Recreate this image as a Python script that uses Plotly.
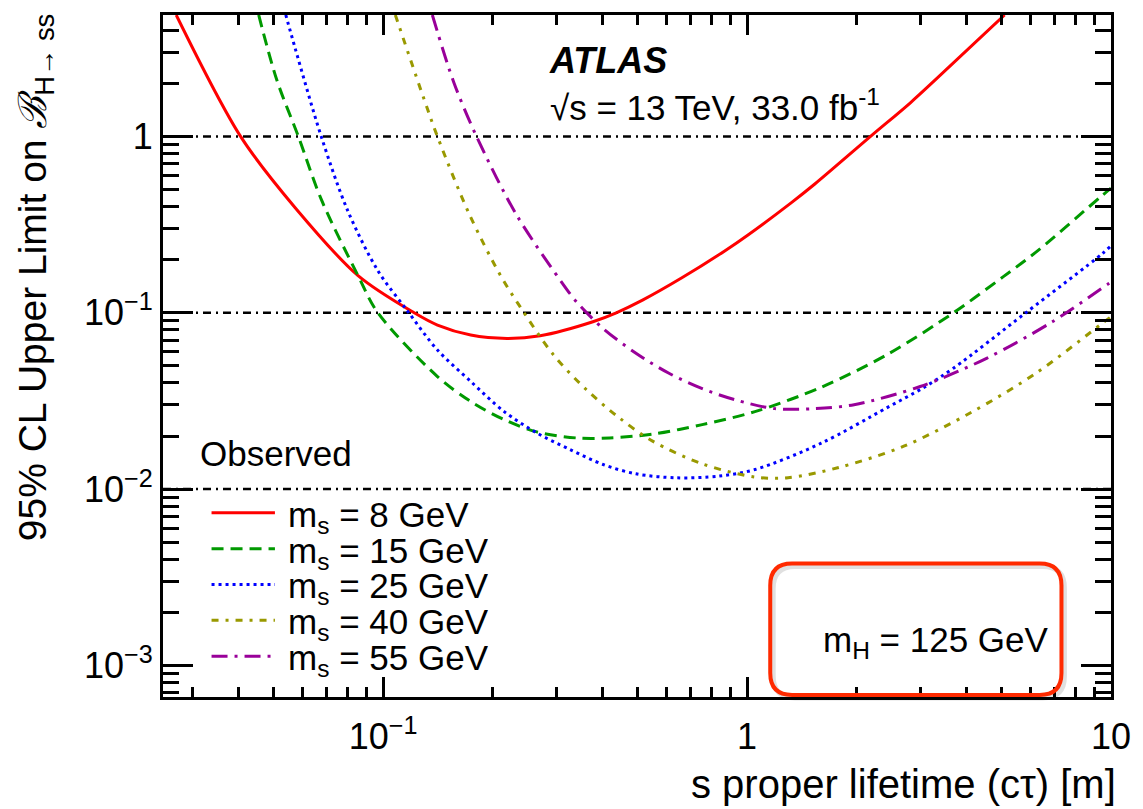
import plotly.graph_objects as go

# ---------------- data ----------------
x_8 = [0.027, 0.0406, 0.0573, 0.0853, 0.1217, 0.141, 0.174, 0.219, 0.270, 0.377, 0.437, 0.516, 0.662, 0.868, 1.008, 1.324, 1.532, 2.18, 2.81, 3.30, 5.10]
y_8 = [4.9, 1.0, 0.395, 0.1625, 0.100, 0.0852, 0.0748, 0.0716, 0.0741, 0.089, 0.100, 0.118, 0.158, 0.2245, 0.2776, 0.4223, 0.5367, 1.0, 1.556, 2.11, 4.9]

x_15 = [0.0455, 0.0510, 0.0585, 0.0676, 0.0853, 0.0967, 0.141, 0.174, 0.2146, 0.2645, 0.34, 0.419, 0.55, 0.753, 1.051, 1.598, 2.427, 3.69, 5.05, 6.22, 9.42, 10.0]
y_15 = [4.9, 2.1, 1.0, 0.44, 0.1625, 0.100, 0.0435, 0.0314, 0.0248, 0.0211, 0.0195, 0.0195, 0.0205, 0.0232, 0.0275, 0.0378, 0.058, 0.100, 0.16, 0.221, 0.46, 0.51]

x_25 = [0.054, 0.0573, 0.0676, 0.0799, 0.0967, 0.1164, 0.141, 0.174, 0.2146, 0.2645, 0.326, 0.402, 0.495, 0.637, 0.836, 1.051, 1.598, 2.427, 3.046, 3.69, 5.83, 9.45, 10.0]
y_25 = [4.9, 3.17, 1.0, 0.38, 0.1734, 0.103, 0.0615, 0.0408, 0.0276, 0.0208, 0.01676, 0.01378, 0.0122, 0.01158, 0.01184, 0.0129, 0.0182, 0.029, 0.0375, 0.0485, 0.100, 0.216, 0.24]

x_40 = [0.108, 0.1292, 0.141, 0.1725, 0.209, 0.238, 0.2938, 0.362, 0.446, 0.55, 0.753, 1.051, 1.296, 1.774, 2.695, 4.10, 6.22, 9.45, 10.0]
y_40 = [4.9, 1.654, 1.0, 0.3625, 0.166, 0.108, 0.0577, 0.0366, 0.0253, 0.0187, 0.0139, 0.0117, 0.0116, 0.0132, 0.0175, 0.027, 0.0454, 0.087, 0.095]

x_55 = [0.1365, 0.1561, 0.1806, 0.232, 0.3046, 0.34, 0.402, 0.495, 0.61, 0.753, 0.927, 1.192, 1.532, 1.968, 2.99, 4.55, 6.90, 9.86, 10.0]
y_55 = [4.9, 2.05, 1.0, 0.3625, 0.156, 0.1153, 0.0815, 0.059, 0.0454, 0.0371, 0.0321, 0.0286, 0.0286, 0.0301, 0.0382, 0.0552, 0.089, 0.1465, 0.149]

series_labels = ["m<sub>s</sub> = 8 GeV", "m<sub>s</sub> = 15 GeV", "m<sub>s</sub> = 25 GeV",
                 "m<sub>s</sub> = 40 GeV", "m<sub>s</sub> = 55 GeV"]
series_x = [x_8, x_15, x_25, x_40, x_55]
series_y = [y_8, y_15, y_25, y_40, y_55]
series_colors = ["#ff0000", "#009900", "#0000ff", "#999900", "#990099"]
series_dash = ["solid", "12px,7px", "3px,4px", "7px,7px,3px,7px", "16px,7px,3px,7px"]

hline_values = [1.0, 0.1, 0.01]

x_tickvals = [0.1, 1, 10]
x_ticktext = ["10<sup>\u22121</sup>", "1", "10"]
x_minor = [0.03, 0.04, 0.05, 0.06, 0.07, 0.08, 0.09,
           0.2, 0.3, 0.4, 0.5, 0.6, 0.7, 0.8, 0.9,
           2, 3, 4, 5, 6, 7, 8, 9]
y_tickvals = [0.001, 0.01, 0.1, 1]
y_ticktext = ["10<sup>\u22123</sup>", "10<sup>\u22122</sup>", "10<sup>\u22121</sup>", "1"]
y_minor = [0.0007, 0.0008, 0.0009,
           0.002, 0.003, 0.004, 0.005, 0.006, 0.007, 0.008, 0.009,
           0.02, 0.03, 0.04, 0.05, 0.06, 0.07, 0.08, 0.09,
           0.2, 0.3, 0.4, 0.5, 0.6, 0.7, 0.8, 0.9,
           2, 3, 4]

# ---------------- layout geometry (pixels) ----------------
W, H = 1143, 809
L, R, T, B = 163, 1120, 12, 697
pw, ph = R - L, B - T


def px(X):
    return (X - L) / pw


def py(Y):
    return (B - Y) / ph


FONT = "Liberation Sans, Arial, Helvetica, sans-serif"

fig = go.Figure()
for xs, ys, lab, col, dash in zip(series_x, series_y, series_labels, series_colors, series_dash):
    fig.add_trace(go.Scatter(
        x=xs, y=ys, mode="lines", name=lab,
        line=dict(color=col, width=3, dash=dash, shape="spline", smoothing=0.9),
        showlegend=False,
    ))

shapes = []
# dash-dot horizontal reference lines
for v in hline_values:
    shapes.append(dict(type="line", xref="paper", x0=0, x1=1, yref="y", y0=v, y1=v,
                       line=dict(color="black", width=2.5, dash="8px,5px,2px,5px"), layer="below"))

# legend line samples
leg_y = [512, 548, 584, 620, 656]
for yy, col, dash in zip(leg_y, series_colors, series_dash):
    shapes.append(dict(type="line", xref="paper", yref="paper", x0=px(212), x1=px(276),
                       y0=py(yy), y1=py(yy), line=dict(color=col, width=3, dash=dash)))


def rounded(x0p, x1p, y0p, y1p, r):
    x0, x1 = px(x0p), px(x1p)
    yt, yb = py(y0p), py(y1p)
    rx, ry = r / pw, r / ph
    return (f"M {x0+rx},{yt} L {x1-rx},{yt} Q {x1},{yt} {x1},{yt-ry} "
            f"L {x1},{yb+ry} Q {x1},{yb} {x1-rx},{yb} L {x0+rx},{yb} "
            f"Q {x0},{yb} {x0},{yb+ry} L {x0},{yt-ry} Q {x0},{yt} {x0+rx},{yt} Z")


shapes.append(dict(type="path", xref="paper", yref="paper", path=rounded(779, 1073, 566, 698, 22),
                   line=dict(color="rgba(0,0,0,0.12)", width=5)))
shapes.append(dict(type="path", xref="paper", yref="paper", path=rounded(776, 1070, 563, 695, 22),
                   line=dict(color="#ff2a00", width=4)))

annotations = [
    dict(text="<b><i>ATLAS</i></b>", x=px(551), y=py(58), xref="paper", yref="paper",
         xanchor="left", yanchor="middle", showarrow=False, font=dict(size=36, family=FONT, color="black")),
    dict(text="\u221as = 13 TeV, 33.0 fb<sup>-1</sup>", x=px(552), y=py(102), xref="paper", yref="paper",
         xanchor="left", yanchor="middle", showarrow=False, font=dict(size=35, family=FONT, color="black")),
    dict(text="Observed", x=px(198), y=py(452), xref="paper", yref="paper",
         xanchor="left", yanchor="middle", showarrow=False, font=dict(size=35, family=FONT, color="black")),
    dict(text="m<sub>H</sub> = 125 GeV", x=px(1059), y=py(642), xref="paper", yref="paper",
         xanchor="right", yanchor="middle", showarrow=False, font=dict(size=35, family=FONT, color="black")),
    dict(text="s proper lifetime (c\u03c4) [m]", x=px(1127), y=py(784), xref="paper", yref="paper",
         xanchor="right", yanchor="middle", showarrow=False, font=dict(size=40, family=FONT, color="black")),
    dict(text="95% CL Upper Limit on <i>\u212c</i><sub>H\u2192 ss</sub>", x=px(34), y=py(8),
         xref="paper", yref="paper", xanchor="center", yanchor="top", textangle=-90,
         showarrow=False, font=dict(size=39, family=FONT, color="black")),
]
for yy, lab in zip(leg_y, series_labels):
    annotations.append(dict(text=lab, x=px(287), y=py(yy + 4), xref="paper", yref="paper",
                            xanchor="left", yanchor="middle", showarrow=False, height=34,
                            font=dict(size=35, family=FONT, color="black")))

axis_common = dict(
    type="log", showline=True, linewidth=3, linecolor="black", mirror="ticks",
    ticks="inside", tickwidth=2.5, tickcolor="black", showgrid=False, zeroline=False,
    tickmode="array", tickfont=dict(size=36, family=FONT, color="black"),
)

fig.update_layout(
    width=W, height=H,
    margin=dict(l=L, r=W - R, t=T, b=H - B),
    paper_bgcolor="white", plot_bgcolor="white",
    xaxis=dict(range=[-1.605, 1.0], tickvals=x_tickvals, ticktext=x_ticktext, ticklen=20,
               ticklabelstandoff=6,
               minor=dict(tickmode="array", tickvals=x_minor, ticks="inside", ticklen=10,
                          tickwidth=2.5, tickcolor="black", showgrid=False),
               **axis_common),
    yaxis=dict(range=[-3.18, 0.69], tickvals=y_tickvals, ticktext=y_ticktext, ticklen=30,
               minor=dict(tickmode="array", tickvals=y_minor, ticks="inside", ticklen=16,
                          tickwidth=2.5, tickcolor="black", showgrid=False),
               **axis_common),
    shapes=shapes,
    annotations=annotations,
    showlegend=False,
)

fig.write_html("out.html", config={"displayModeBar": False},
               post_script="document.body.style.margin='0';document.body.style.overflow='hidden';")
